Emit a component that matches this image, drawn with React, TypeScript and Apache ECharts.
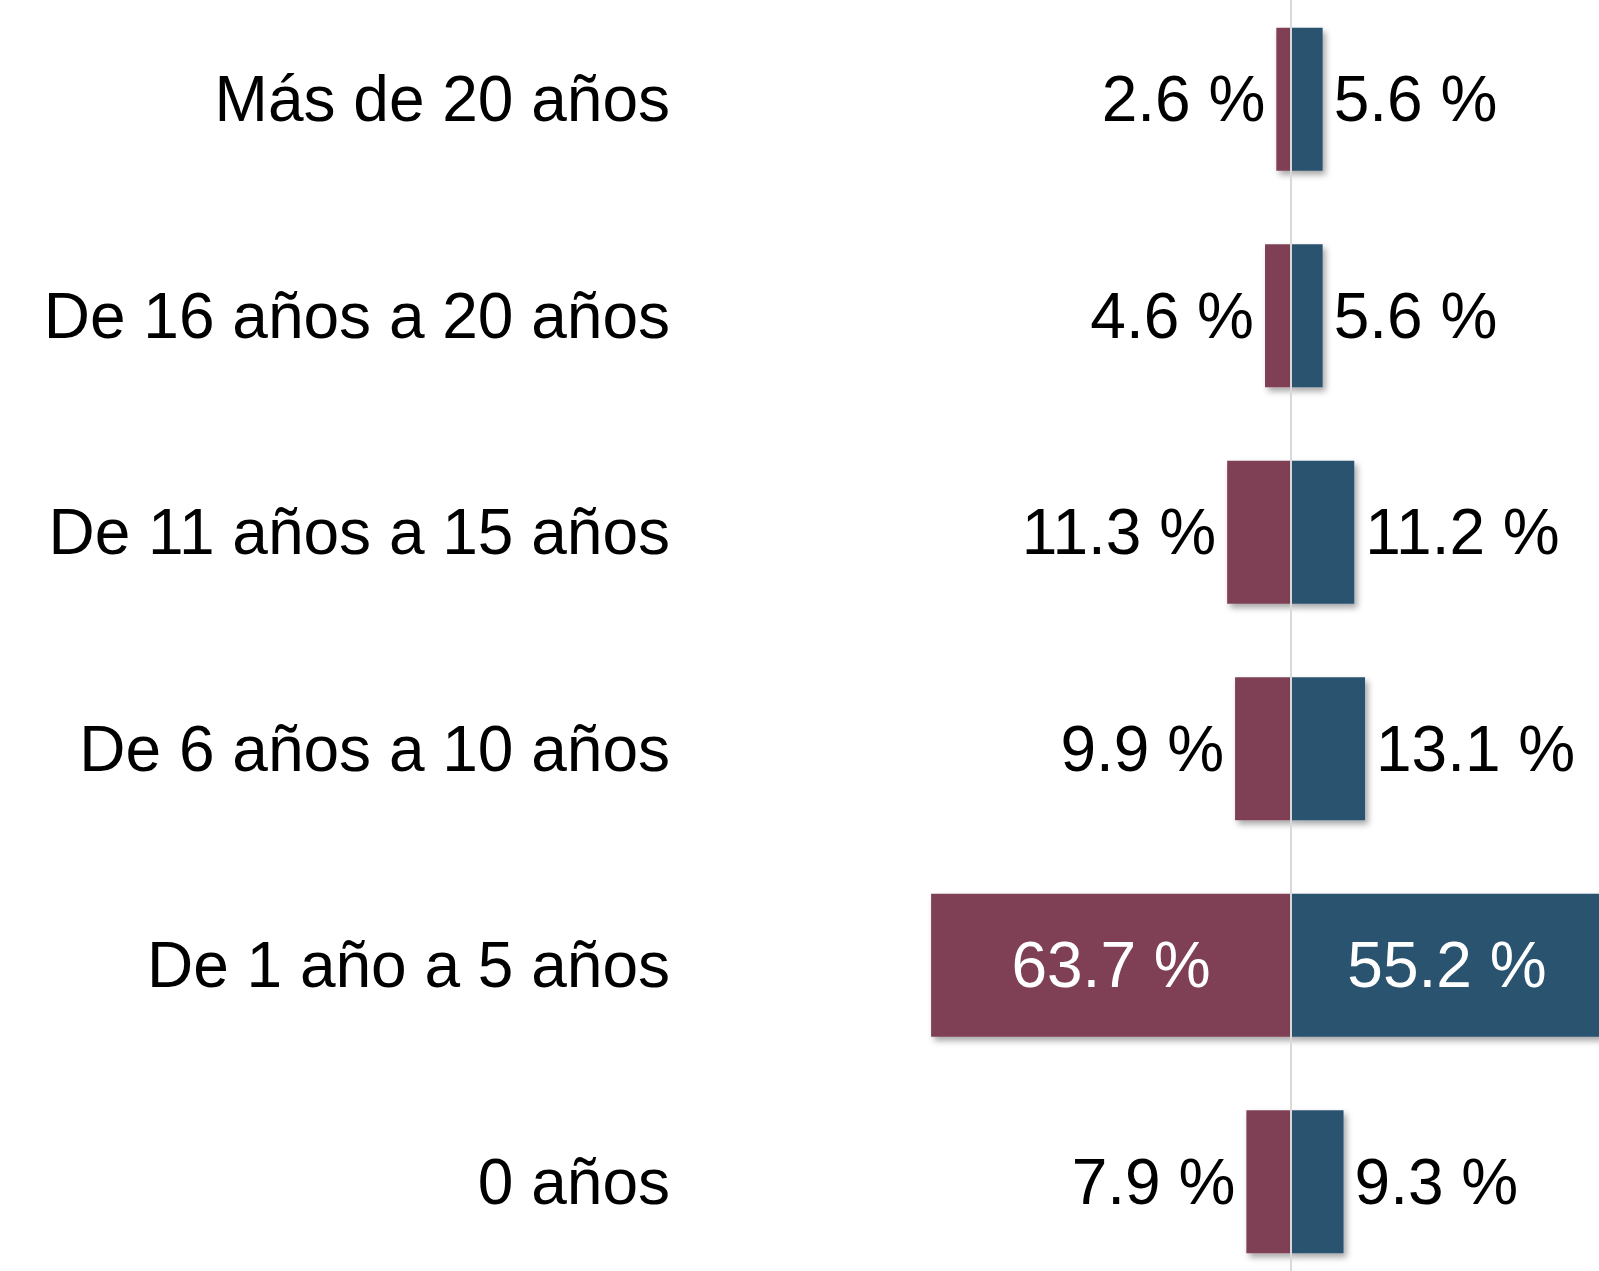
import React, { useEffect, useRef } from "react";
import * as echarts from "echarts";

const categories = [
  "Más de 20 años",
  "De 16 años a 20 años",
  "De 11 años a 15 años",
  "De 6 años a 10 años",
  "De 1 año a 5 años",
  "0 años",
];
const leftValues = [2.6, 4.6, 11.3, 9.9, 63.7, 7.9];
const rightValues = [5.6, 5.6, 11.2, 13.1, 55.2, 9.3];

const LEFT_COLOR = "#7F4054";
const RIGHT_COLOR = "#2B5270";
const FONT = "Liberation Sans, Arial, sans-serif";

function fmt(v: number) {
  return Math.abs(v).toFixed(1) + " %";
}

export default function App() {
  const ref = useRef<HTMLDivElement>(null);
  useEffect(() => {
    if (!ref.current) return;
    const chart = echarts.init(ref.current, null, { renderer: "svg" });
    const shadow = {
      shadowColor: "rgba(0,0,0,0.35)",
      shadowBlur: 6,
      shadowOffsetX: 3,
      shadowOffsetY: 4,
    };
    const mkData = (vals: number[], sign: number, side: "left" | "right") =>
      vals.map((v) => {
        const big = v > 30;
        return {
          value: sign * v,
          label: big
            ? { position: "inside", color: "#ffffff" }
            : { position: side, color: "#000000", distance: 11 },
        };
      });
    const pxPerUnit = 5.65;
    const center = 1291;
    const minV = -70;
    const maxV = 57;
    const gridLeft = center + minV * pxPerUnit;
    const gridWidth = (maxV - minV) * pxPerUnit;
    chart.setOption({
      animation: false,
      backgroundColor: "#ffffff",
      grid: { left: gridLeft, width: gridWidth, top: 0, height: 1299, containLabel: false },
      xAxis: {
        type: "value",
        min: minV,
        max: maxV,
        show: false,
      },
      yAxis: {
        type: "category",
        data: categories,
        inverse: true,
        axisLine: { show: false, onZero: false },
        axisTick: { show: false },
        axisLabel: {
          margin: gridLeft - 670,
          fontSize: 64,
          fontFamily: FONT,
          color: "#000000",
        },
      },
      series: [
        {
          type: "bar",
          name: "left",
          data: mkData(leftValues, -1, "left"),
          barGap: "-100%",
          barCategoryGap: "34%",
          itemStyle: { color: LEFT_COLOR, ...shadow },
          label: {
            show: true,
            fontSize: 64,
            fontFamily: FONT,
            formatter: (p: any) => fmt(p.value),
          },
        },
        {
          type: "bar",
          name: "right",
          data: mkData(rightValues, 1, "right"),
          barGap: "-100%",
          barCategoryGap: "34%",
          itemStyle: { color: RIGHT_COLOR, ...shadow },
          label: {
            show: true,
            fontSize: 64,
            fontFamily: FONT,
            formatter: (p: any) => fmt(p.value),
          },
          markLine: {
            silent: true,
            symbol: "none",
            label: { show: false },
            lineStyle: { color: "#d9d9d9", width: 2, type: "solid" },
            data: [{ xAxis: 0 }],
          },
        },
      ],
    });
    return () => chart.dispose();
  }, []);
  return (
    <div
      ref={ref}
      style={{ position: "fixed", left: 0, top: -9, width: 1620, height: 1299 }}
    />
  );
}
